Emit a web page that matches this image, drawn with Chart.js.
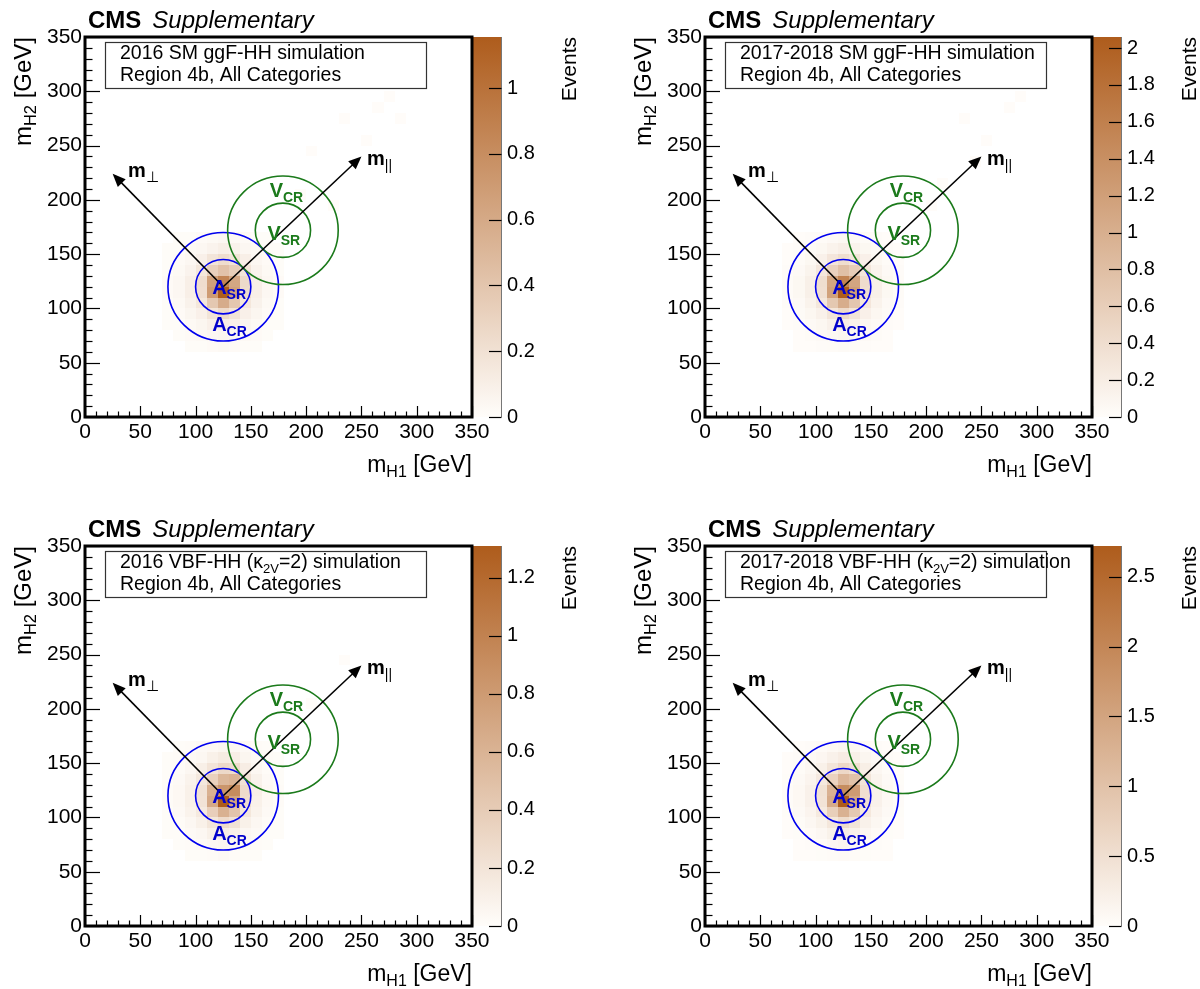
<!DOCTYPE html>
<html><head><meta charset="utf-8">
<script src="https://cdn.jsdelivr.net/npm/chart.js@4.4.0/dist/chart.umd.min.js"></script>
<style>
html,body{margin:0;padding:0;background:#fff;width:1200px;height:989px;overflow:hidden;position:relative}
canvas{position:absolute}
</style></head><body>
<canvas id="c0" width="580" height="500" style="left:0;top:0"></canvas>
<canvas id="c1" width="580" height="500" style="left:620px;top:0"></canvas>
<canvas id="c2" width="580" height="480" style="left:0;top:509px"></canvas>
<canvas id="c3" width="580" height="480" style="left:620px;top:509px"></canvas>
<script>
// ---------------- DATA ----------------
const binWidth = 10;                                   // GeV
const xBinLow = [70,80,90,100,110,120,130,140,150,160,170];
const yBinLow = [160,150,140,130,120,110,100,90,80,70,60];   // rows, top to bottom
const axisTicks = [0,50,100,150,200,250,300,350];

const ggF2016 = [
 [0.00,0.01,0.01,0.02,0.03,0.04,0.03,0.02,0.01,0.01,0.00],
 [0.01,0.01,0.03,0.04,0.07,0.10,0.08,0.04,0.03,0.01,0.01],
 [0.01,0.02,0.04,0.09,0.17,0.23,0.18,0.10,0.04,0.02,0.01],
 [0.01,0.03,0.07,0.16,0.32,0.42,0.34,0.17,0.07,0.03,0.01],
 [0.02,0.04,0.10,0.23,0.66,0.86,0.62,0.25,0.10,0.04,0.02],
 [0.02,0.04,0.10,0.22,0.70,1.15,0.66,0.24,0.10,0.04,0.02],
 [0.01,0.03,0.08,0.16,0.38,0.58,0.39,0.16,0.08,0.03,0.01],
 [0.01,0.02,0.05,0.09,0.18,0.25,0.18,0.09,0.05,0.02,0.01],
 [0.01,0.01,0.03,0.05,0.09,0.11,0.09,0.05,0.03,0.01,0.01],
 [0.00,0.01,0.02,0.03,0.04,0.05,0.04,0.03,0.02,0.01,0.00],
 [0.00,0.00,0.01,0.01,0.02,0.03,0.02,0.01,0.01,0.00,0.00]
];
const ggF2017_18 = [
 [0.00,0.01,0.02,0.03,0.05,0.07,0.05,0.03,0.02,0.01,0.00],
 [0.01,0.02,0.04,0.07,0.13,0.18,0.13,0.07,0.04,0.02,0.01],
 [0.01,0.03,0.07,0.15,0.29,0.40,0.31,0.16,0.07,0.03,0.01],
 [0.02,0.05,0.12,0.28,0.56,0.78,0.61,0.30,0.13,0.05,0.02],
 [0.03,0.07,0.17,0.40,1.12,1.55,1.12,0.42,0.17,0.07,0.03],
 [0.03,0.07,0.17,0.38,1.18,2.06,1.22,0.40,0.17,0.07,0.03],
 [0.02,0.05,0.13,0.28,0.68,1.02,0.70,0.29,0.13,0.05,0.02],
 [0.01,0.04,0.08,0.15,0.31,0.45,0.32,0.16,0.08,0.04,0.01],
 [0.01,0.02,0.05,0.08,0.15,0.20,0.15,0.08,0.05,0.02,0.01],
 [0.00,0.01,0.03,0.05,0.07,0.09,0.07,0.05,0.03,0.01,0.00],
 [0.00,0.01,0.01,0.02,0.03,0.04,0.03,0.02,0.01,0.01,0.00]
];
const vbf2016 = [
 [0.00,0.01,0.02,0.03,0.04,0.06,0.05,0.03,0.02,0.01,0.00],
 [0.01,0.02,0.03,0.05,0.10,0.14,0.12,0.06,0.03,0.02,0.01],
 [0.01,0.02,0.05,0.11,0.20,0.29,0.27,0.13,0.05,0.02,0.01],
 [0.01,0.03,0.08,0.17,0.36,0.56,0.60,0.22,0.09,0.03,0.01],
 [0.02,0.04,0.10,0.22,0.62,0.84,0.92,0.28,0.11,0.04,0.02],
 [0.02,0.04,0.10,0.21,0.68,1.31,0.72,0.26,0.10,0.04,0.02],
 [0.01,0.03,0.08,0.16,0.38,0.62,0.46,0.18,0.08,0.03,0.01],
 [0.01,0.02,0.05,0.10,0.19,0.28,0.22,0.10,0.05,0.02,0.01],
 [0.01,0.01,0.03,0.05,0.10,0.13,0.10,0.05,0.03,0.01,0.01],
 [0.00,0.01,0.02,0.03,0.05,0.06,0.05,0.03,0.02,0.01,0.00],
 [0.00,0.00,0.01,0.01,0.02,0.03,0.02,0.01,0.01,0.00,0.00]
];
const vbf2017_18 = [
 [0.00,0.01,0.03,0.05,0.08,0.12,0.10,0.05,0.03,0.01,0.00],
 [0.01,0.03,0.06,0.11,0.20,0.28,0.22,0.12,0.06,0.03,0.01],
 [0.01,0.04,0.10,0.21,0.40,0.62,0.50,0.24,0.10,0.04,0.01],
 [0.02,0.06,0.15,0.33,0.72,1.18,1.00,0.42,0.16,0.06,0.02],
 [0.03,0.08,0.20,0.46,1.28,1.90,1.66,0.52,0.20,0.08,0.03],
 [0.03,0.08,0.20,0.44,1.38,2.72,1.44,0.50,0.20,0.08,0.03],
 [0.02,0.06,0.15,0.33,0.78,1.28,0.88,0.35,0.15,0.06,0.02],
 [0.01,0.04,0.10,0.19,0.38,0.56,0.42,0.20,0.10,0.04,0.01],
 [0.01,0.02,0.05,0.10,0.19,0.26,0.20,0.11,0.05,0.02,0.01],
 [0.00,0.01,0.03,0.05,0.10,0.13,0.10,0.05,0.03,0.01,0.00],
 [0.00,0.01,0.01,0.02,0.04,0.05,0.04,0.02,0.01,0.01,0.00]
];
// faint isolated bins [xLow, yLow, events]
const ggF2016Faint = [[270,290,0.007],[260,280,0.006],[250,250,0.007],[230,270,0.005],[200,240,0.006],[190,200,0.007],[220,190,0.005],[280,270,0.005]];
const ggF2017_18Faint = [[280,290,0.012],[270,280,0.01],[250,250,0.012],[240,230,0.01],[230,270,0.008],[210,210,0.01],[200,190,0.008]];
const vbf2016Faint = [[200,200,0.006],[230,240,0.005]];
const vbf2017_18Faint = [[210,200,0.012],[240,230,0.01]];

const zMax = [1.155, 2.06, 1.31, 2.72];
const zTicks = [
 [0,0.2,0.4,0.6,0.8,1],
 [0,0.2,0.4,0.6,0.8,1,1.2,1.4,1.6,1.8,2],
 [0,0.2,0.4,0.6,0.8,1,1.2],
 [0,0.5,1,1.5,2,2.5]
];
// legend first lines: [text, isSubscript]
const sampleLabels = [
 [["2016 SM ggF-HH simulation",0]],
 [["2017-2018 SM ggF-HH simulation",0]],
 [["2016 VBF-HH (\u03BA",0],["2V",1],["=2) simulation",0]],
 [["2017-2018 VBF-HH (\u03BA",0],["2V",1],["=2) simulation",0]]
];
const regionLabel = "Region 4b, All Categories";
// analysis regions (GeV)
const aCenter = [125,120], aRadii = [25,50];
const vCenter = [179,172], vRadii = [25,50];
const mParTip = [250,240], mPerpTip = [25,224];

// ---------------- DRAWING ----------------
const FAM = '"Liberation Sans", Arial, Helvetica, sans-serif';
const LOW = [255,253,250], HIGH = [174,92,28];
const AREA_TOP = 37, AREA_BOTTOM = 417;
function colorAt(f){
  f = Math.max(0, Math.min(1, f));
  const c = LOW.map((l,i)=>Math.round(l + (HIGH[i]-l)*f));
  return `rgb(${c[0]},${c[1]},${c[2]})`;
}
function drawRich(ctx, x, y, segs, align, color){
  let w = 0;
  for (const s of segs){ ctx.font = s.f; s.w = ctx.measureText(s.t).width; w += s.w; }
  let cx = align === 'right' ? x - w : (align === 'center' ? x - w/2 : x);
  ctx.textAlign = 'left'; ctx.textBaseline = 'alphabetic'; ctx.fillStyle = color;
  for (const s of segs){ ctx.font = s.f; ctx.fillText(s.t, cx, y + (s.dy||0)); cx += s.w; }
  return w;
}
function arrow(ctx, x0, y0, x1, y1){
  const ang = Math.atan2(y1-y0, x1-x0), L = 13, H = 5.5;
  ctx.beginPath(); ctx.moveTo(x0,y0);
  ctx.lineTo(x1 - (L-2)*Math.cos(ang), y1 - (L-2)*Math.sin(ang)); ctx.stroke();
  ctx.beginPath(); ctx.moveTo(x1,y1);
  ctx.lineTo(x1 - L*Math.cos(ang) + H*Math.sin(ang), y1 - L*Math.sin(ang) - H*Math.cos(ang));
  ctx.lineTo(x1 - L*Math.cos(ang) - H*Math.sin(ang), y1 - L*Math.sin(ang) + H*Math.cos(ang));
  ctx.closePath(); ctx.fill();
}
function noPad(s){ s.paddingTop = 0; s.paddingBottom = 0; s.paddingLeft = 0; s.paddingRight = 0; }

function makePlugin(P){
  return {
    id: 'hep' + P.idx,
    beforeDatasetsDraw(chart){
      const {ctx, chartArea:a, scales:{x, y}} = chart;
      ctx.save();
      ctx.beginPath(); ctx.rect(a.left, a.top, a.right-a.left, a.bottom-a.top); ctx.clip();
      const cell = (xl, yl, v) => {
        if (!v) return;
        const x0 = Math.round(x.getPixelForValue(xl)), x1 = Math.round(x.getPixelForValue(xl+binWidth));
        const y0 = Math.round(y.getPixelForValue(yl+binWidth)), y1 = Math.round(y.getPixelForValue(yl));
        ctx.fillStyle = colorAt(v / P.zMax);
        ctx.fillRect(x0, y0, x1-x0, y1-y0);
      };
      P.cells.forEach((row, r) => row.forEach((v, c) => cell(xBinLow[c], yBinLow[r], v)));
      P.faint.forEach(([xl, yl, v]) => cell(xl, yl, v));
      ctx.restore();
    },
    afterDraw(chart){
      const {ctx, chartArea:a, scales:{x, y, cb}} = chart;
      const px = v => x.getPixelForValue(v), py = v => y.getPixelForValue(v);
      ctx.save();
      // ---- colour bar
      const cbL = a.right + 1, cbR = a.right + 29;
      const top = cb.getPixelForValue(P.zMax), bot = cb.getPixelForValue(0);
      const g = ctx.createLinearGradient(0, bot, 0, top);
      g.addColorStop(0, colorAt(0)); g.addColorStop(1, colorAt(1));
      ctx.fillStyle = g; ctx.fillRect(cbL, top, cbR-cbL, bot-top);
      ctx.strokeStyle = '#777'; ctx.lineWidth = 1;
      ctx.beginPath(); ctx.moveTo(cbR+0.5, top); ctx.lineTo(cbR+0.5, bot); ctx.stroke();
      ctx.strokeStyle = '#000'; ctx.lineWidth = 1.2;
      for (const v of P.zTicks){
        const yy = Math.round(cb.getPixelForValue(v)) + 0.5;
        ctx.beginPath(); ctx.moveTo(cbR - 12, yy); ctx.lineTo(cbR + 0.5, yy); ctx.stroke();
      }
      // Events title
      ctx.save(); ctx.translate(a.right + 104, a.top); ctx.rotate(-Math.PI/2);
      drawRich(ctx, 0, 0, [{t:'Events', f:`21px ${FAM}`}], 'right', '#000');
      ctx.restore();

      // ---- regions
      ctx.lineWidth = 1.6;
      const ell = (c, r, col) => {
        ctx.strokeStyle = col; ctx.beginPath();
        ctx.ellipse(px(c[0]), py(c[1]), px(c[0]+r)-px(c[0]), py(c[1])-py(c[1]+r), 0, 0, 2*Math.PI);
        ctx.stroke();
      };
      aRadii.forEach(r => ell(aCenter, r, '#0000ee'));
      vRadii.forEach(r => ell(vCenter, r, '#1b7a1b'));
      ctx.strokeStyle = '#000'; ctx.fillStyle = '#000'; ctx.lineWidth = 1.6;
      arrow(ctx, px(aCenter[0]), py(aCenter[1]), px(mParTip[0]), py(mParTip[1]));
      arrow(ctx, px(aCenter[0]), py(aCenter[1]), px(mPerpTip[0]), py(mPerpTip[1]));
      const big = `bold 20px ${FAM}`, sub = `bold 14px ${FAM}`;
      drawRich(ctx, px(39), py(221), [{t:'m', f:big},{t:'\u22A5', f:`15px "DejaVu Sans", ${FAM}`, dy:5}], 'left', '#000');
      drawRich(ctx, px(255), py(232), [{t:'m', f:big},{t:'||', f:`14px ${FAM}`, dy:5}], 'left', '#000');
      drawRich(ctx, px(167), py(203), [{t:'V', f:big},{t:'CR', f:sub, dy:5}], 'left', '#1b7a1b');
      drawRich(ctx, px(165), py(163), [{t:'V', f:big},{t:'SR', f:sub, dy:5}], 'left', '#1b7a1b');
      drawRich(ctx, px(115), py(113), [{t:'A', f:big},{t:'SR', f:sub, dy:5}], 'left', '#0000cc');
      drawRich(ctx, px(115), py(79), [{t:'A', f:big},{t:'CR', f:sub, dy:5}], 'left', '#0000cc');

      // ---- ticks (inside) and frame
      ctx.strokeStyle = '#000'; ctx.lineWidth = 1.2;
      for (let v = 0; v <= 350; v += 10){
        const major = v % 50 === 0;
        const xx = Math.round(px(v)) + 0.5, yy = Math.round(py(v)) + 0.5;
        ctx.beginPath(); ctx.moveTo(xx, a.bottom); ctx.lineTo(xx, a.bottom - (major ? 11 : 5.5)); ctx.stroke();
        ctx.beginPath(); ctx.moveTo(a.left, yy); ctx.lineTo(a.left + (major ? 15 : 7.5), yy); ctx.stroke();
      }
      ctx.lineWidth = 3;
      ctx.strokeRect(a.left, a.top, a.right-a.left, a.bottom-a.top);

      // ---- legend box
      ctx.lineWidth = 1.2; ctx.strokeStyle = '#333'; ctx.fillStyle = '#fff';
      ctx.fillRect(a.left + 20, a.top + 5, 321, 46);
      ctx.strokeRect(a.left + 20.5, a.top + 5.5, 321, 46);
      const nf = `19.5px ${FAM}`, sf = `13px ${FAM}`;
      drawRich(ctx, a.left + 35, a.top + 22, P.label.map(([t, s]) => s ? {t, f:sf, dy:5} : {t, f:nf}), 'left', '#000');
      drawRich(ctx, a.left + 35, a.top + 44, [{t:regionLabel, f:nf}], 'left', '#000');

      // ---- CMS label
      const w = drawRich(ctx, a.left + 3, a.top - 9, [{t:'CMS', f:`bold 24px ${FAM}`}], 'left', '#000');
      drawRich(ctx, a.left + 3 + w + 11, a.top - 9, [{t:'Supplementary', f:`italic 24px ${FAM}`}], 'left', '#000');

      // ---- axis titles
      drawRich(ctx, a.right, a.bottom + 55, [{t:'m', f:`23px ${FAM}`},{t:'H1', f:`16px ${FAM}`, dy:5},{t:' [GeV]', f:`23px ${FAM}`}], 'right', '#000');
      ctx.save(); ctx.translate(31, a.top); ctx.rotate(-Math.PI/2);
      drawRich(ctx, 0, 0, [{t:'m', f:`24px ${FAM}`},{t:'H2', f:`16.5px ${FAM}`, dy:5},{t:' [GeV]', f:`24px ${FAM}`}], 'right', '#000');
      ctx.restore();
      ctx.restore();
    }
  };
}

const panels = [
  {cells: ggF2016, faint: ggF2016Faint},
  {cells: ggF2017_18, faint: ggF2017_18Faint},
  {cells: vbf2016, faint: vbf2016Faint},
  {cells: vbf2017_18, faint: vbf2017_18Faint}
].map((p, i) => Object.assign(p, {idx:i, zMax:zMax[i], zTicks:zTicks[i], label:sampleLabels[i]}));

panels.forEach((P, i) => {
  const cv = document.getElementById('c' + i);
  const axFont = {family: FAM, size: 21}, cbFont = {family: FAM, size: 20};
  new Chart(cv.getContext('2d'), {
    type: 'scatter',
    data: {datasets: [{data: [], pointRadius: 0}]},
    options: {
      responsive: false, animation: false, devicePixelRatio: 1, events: [],
      layout: {padding: {left: 0, top: AREA_TOP, right: 0, bottom: cv.height - AREA_BOTTOM - 62}},
      plugins: {legend: {display: false}, tooltip: {enabled: false}},
      scales: {
        x: {type: 'linear', position: 'bottom', min: 0, max: 350,
            grid: {display: false, drawTicks: false}, border: {display: false},
            afterBuildTicks: s => { s.ticks = axisTicks.map(v => ({value: v})); },
            ticks: {font: axFont, color: '#000', padding: 3, maxRotation: 0, autoSkip: false},
            afterFit: s => { s.height = 62; noPad(s); }},
        y: {type: 'linear', position: 'left', min: 0, max: 350,
            grid: {display: false, drawTicks: false}, border: {display: false},
            afterBuildTicks: s => { s.ticks = axisTicks.map(v => ({value: v})); },
            ticks: {font: axFont, color: '#000', padding: 3, autoSkip: false},
            afterFit: s => { s.width = 85; noPad(s); }},
        cb: {type: 'linear', position: 'right', min: 0, max: P.zMax,
            grid: {display: false, drawTicks: false}, border: {display: false},
            afterBuildTicks: s => { s.ticks = P.zTicks.map(v => ({value: v})); },
            ticks: {font: cbFont, color: '#000', padding: 35, autoSkip: false, callback: v => String(v)},
            afterFit: s => { s.width = 108; noPad(s); }}
      }
    },
    plugins: [makePlugin(P)]
  });
});
</script>
</body></html>
